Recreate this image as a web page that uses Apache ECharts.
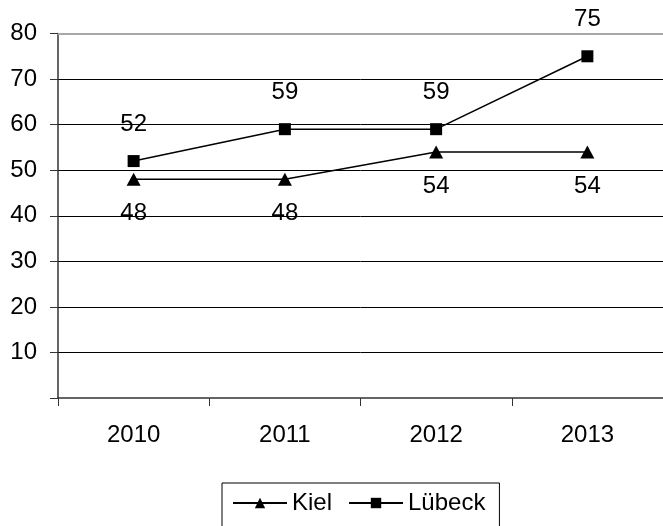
<!DOCTYPE html>
<html>
<head>
<meta charset="utf-8">
<script src="https://cdn.jsdelivr.net/npm/echarts@6/dist/echarts.min.js"></script>
<style>
html,body{margin:0;padding:0;background:#fff;}
#chart{width:663px;height:526px;}
</style>
</head>
<body>
<div id="chart"></div>
<script>
const categories = ['2010', '2011', '2012', '2013'];
const kiel = [48, 48, 54, 54];
const luebeck = [52, 59, 59, 75];
const seriesNames = ['Kiel', 'Lübeck'];

const FONT = '"Liberation Sans", Arial, sans-serif';
const chart = echarts.init(document.getElementById('chart'), null, {renderer: 'canvas'});
chart.setOption({
  animation: false,
  backgroundColor: '#ffffff',
  textStyle: {fontFamily: FONT, color: '#000'},
  grid: {left: 58, top: 33.5, right: -5, bottom: 128, containLabel: false},
  legend: {
    data: seriesNames,
    left: 222, top: 483,
    orient: 'horizontal',
    itemWidth: 54, itemHeight: 13, itemGap: 16,
    padding: [8, 14, 30, 10],
    borderColor: '#000', borderWidth: 1, borderRadius: 0,
    textStyle: {fontFamily: FONT, fontSize: 24, color: '#000'}
  },
  xAxis: [{
    type: 'category',
    data: categories,
    boundaryGap: true,
    axisLine: {show: true, lineStyle: {color: '#333', width: 1.5}},
    axisTick: {show: true, alignWithLabel: false, length: 8, inside: false, lineStyle: {color: '#333', width: 1}},
    axisLabel: {fontFamily: FONT, fontSize: 24, color: '#000', margin: 25},
    splitLine: {show: false}
  }, {
    type: 'category',
    data: categories,
    position: 'top',
    axisLine: {show: true, lineStyle: {color: '#a8a8a8', width: 2}},
    axisTick: {show: false},
    axisLabel: {show: false},
    splitLine: {show: false}
  }],
  yAxis: {
    type: 'value',
    min: 0, max: 80, interval: 10,
    axisLine: {show: true, lineStyle: {color: '#333', width: 1.5}},
    axisTick: {show: true, length: 8, lineStyle: {color: '#333', width: 1}},
    axisLabel: {
      fontFamily: FONT, fontSize: 24, color: '#000', margin: 21,
      formatter: function (v) { return v === 0 ? '' : String(v); }
    },
    splitLine: {show: true, showMinLine: false, showMaxLine: false, lineStyle: {color: '#000', width: 1}}
  },
  series: [{
    name: seriesNames[0],
    type: 'line',
    data: kiel,
    symbol: 'triangle',
    symbolSize: [14, 13],
    itemStyle: {color: '#000'},
    lineStyle: {color: '#000', width: 1.5},
    label: {show: true, position: 'bottom', distance: 16, fontFamily: FONT, fontSize: 24, color: '#000'}
  }, {
    name: seriesNames[1],
    type: 'line',
    data: luebeck,
    symbol: 'rect',
    symbolSize: 12,
    itemStyle: {color: '#000'},
    lineStyle: {color: '#000', width: 1.5},
    label: {show: true, position: 'top', distance: 19, fontFamily: FONT, fontSize: 24, color: '#000'}
  }]
});
</script>
</body>
</html>
